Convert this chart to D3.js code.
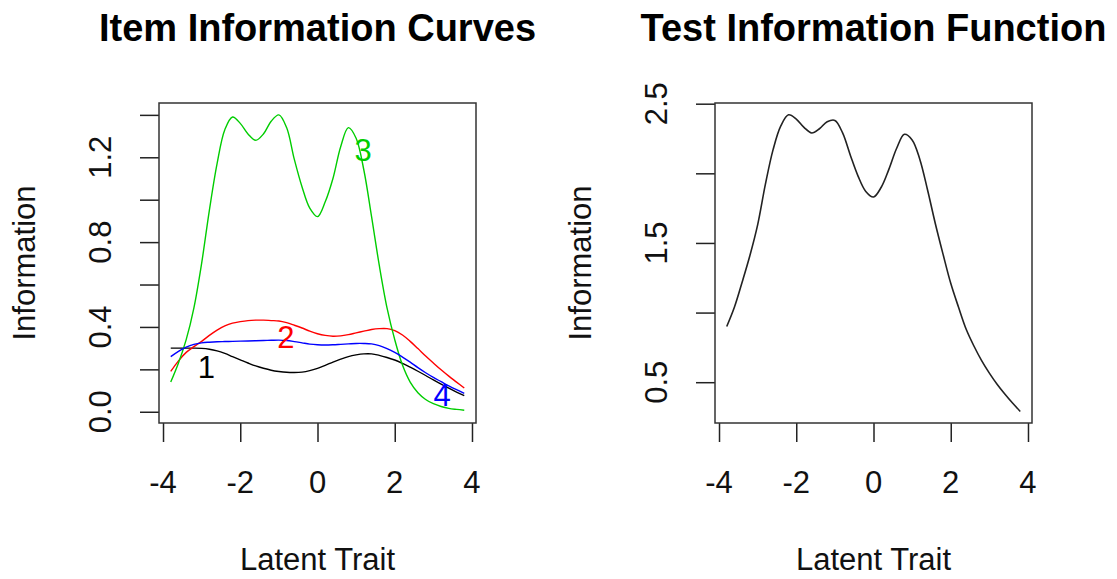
<!DOCTYPE html>
<html>
<head>
<meta charset="utf-8">
<script src="https://cdn.jsdelivr.net/npm/d3@7"></script>
<style>
body { margin: 0; background: #fff; }
text { font-family: "Liberation Sans", Arial, Helvetica, sans-serif; }
</style>
</head>
<body>
<div id="svg_area"></div>
<script>
// latent trait grid
var theta = [-3.8,-3.6,-3.4,-3.2,-3.0,-2.8,-2.6,-2.4,-2.2,-2.0,-1.8,-1.6,-1.4,-1.2,-1.0,-0.8,-0.6,-0.4,-0.2,0.0,
             0.2,0.4,0.6,0.8,1.0,1.2,1.4,1.6,1.8,2.0,2.2,2.4,2.6,2.8,3.0,3.2,3.4,3.6,3.8];

// item information
var item1 = [0.300,0.300,0.300,0.300,0.299,0.295,0.287,0.275,0.260,0.245,0.230,0.216,0.205,0.196,0.190,0.186,0.185,0.187,0.194,0.205,
             0.219,0.234,0.248,0.260,0.268,0.273,0.273,0.266,0.256,0.244,0.228,0.210,0.191,0.171,0.150,0.130,0.111,0.093,0.076];
var item2 = [0.190,0.240,0.280,0.307,0.332,0.360,0.385,0.405,0.418,0.425,0.430,0.432,0.432,0.430,0.428,0.420,0.408,0.395,0.380,0.368,
             0.360,0.356,0.358,0.364,0.372,0.380,0.388,0.392,0.392,0.383,0.362,0.332,0.298,0.263,0.230,0.198,0.168,0.140,0.112];
var item3 = [0.140,0.230,0.340,0.490,0.700,0.950,1.170,1.330,1.390,1.360,1.310,1.280,1.310,1.370,1.400,1.340,1.190,1.060,0.960,0.920,
             0.990,1.100,1.250,1.340,1.290,1.140,0.920,0.690,0.490,0.340,0.220,0.140,0.090,0.058,0.038,0.025,0.016,0.011,0.007];
var item4 = [0.260,0.285,0.305,0.318,0.325,0.328,0.330,0.331,0.332,0.333,0.334,0.335,0.336,0.337,0.338,0.336,0.331,0.325,0.319,0.316,
             0.315,0.316,0.318,0.320,0.322,0.322,0.320,0.312,0.298,0.280,0.258,0.234,0.208,0.184,0.162,0.142,0.122,0.104,0.087];

// test information
var testInfo = [0.90,1.04,1.22,1.41,1.63,1.92,2.17,2.34,2.42,2.39,2.33,2.29,2.32,2.37,2.38,2.29,2.13,1.98,1.87,1.83,
                1.90,2.03,2.18,2.28,2.24,2.10,1.88,1.64,1.42,1.21,1.04,0.88,0.76,0.655,0.565,0.485,0.415,0.35,0.29];

var itemNames = ["1","2","3","4"];
var itemColors = ["#000000","#ff0000","#00cd00","#0000ff"];
var itemSeries = [item1,item2,item3,item4];
// where the item numbers sit (theta, information)
var labelTheta = [-2.88,-0.82,1.18,3.23];
var labelInfo = [0.208,0.350,1.234,0.079];

var xTicks = [-4,-2,0,2,4];
var leftYTicks = [0,0.2,0.4,0.6,0.8,1.0,1.2,1.4];
var leftYLabels = ["0.0","","0.4","","0.8","","1.2",""];
var rightYTicks = [0.5,1.0,1.5,2.0,2.5];
var rightYLabels = ["0.5","","1.5","","2.5"];

var W = 1117, H = 579;
var boxTop = 103, boxBottom = 423, boxW = 317;
var leftX0 = 159, rightX0 = 715;

var svg = d3.select("#svg_area")
    .append("svg")
    .attr("width",W)
    .attr("height",H);

function panel(x0, title, yDomain, yTicks, yLabels) {
    var g = svg.append("g");
    var sx = d3.scaleLinear().domain([-4.104,4.104]).range([x0,x0+boxW]);
    var sy = d3.scaleLinear().domain(yDomain).range([boxBottom,boxTop]);

    g.append("g")
        .attr("transform","translate(0,"+boxBottom+")")
        .call(d3.axisBottom(sx).tickValues(xTicks).tickSize(19).tickSizeOuter(0).tickFormat(""))
        .call(a => a.select(".domain").remove())
        .selectAll("line").attr("stroke","#222").attr("stroke-width",1.5);

    g.append("g")
        .attr("transform","translate("+x0+",0)")
        .call(d3.axisLeft(sy).tickValues(yTicks).tickSize(19).tickSizeOuter(0).tickFormat(""))
        .call(a => a.select(".domain").remove())
        .selectAll("line").attr("stroke","#222").attr("stroke-width",1.5);

    g.selectAll(".xl")
        .data(xTicks)
        .enter().append("text")
        .attr("x",d => sx(d))
        .attr("y",493)
        .attr("text-anchor","middle")
        .style("font-size","31px")
        .style("fill","#111")
        .text(d => d);

    g.selectAll(".yl")
        .data(yTicks)
        .enter().append("text")
        .attr("transform",d => "translate("+(x0-48)+","+sy(d)+") rotate(-90)")
        .attr("text-anchor","middle")
        .style("font-size","31px")
        .style("fill","#111")
        .text((d,i) => yLabels[i]);

    g.append("rect")
        .attr("x",x0).attr("y",boxTop)
        .attr("width",boxW).attr("height",boxBottom-boxTop)
        .attr("fill","none")
        .attr("stroke","#333")
        .attr("stroke-width",1.5);

    g.append("text")
        .attr("x",x0+boxW/2)
        .attr("y",41)
        .attr("text-anchor","middle")
        .style("font-size","38px")
        .style("font-weight","bold")
        .text(title);

    g.append("text")
        .attr("x",x0+boxW/2)
        .attr("y",570)
        .attr("text-anchor","middle")
        .style("font-size","31px")
        .style("fill","#111")
        .text("Latent Trait");

    g.append("text")
        .attr("transform","translate("+(x0-124)+","+((boxTop+boxBottom)/2)+") rotate(-90)")
        .attr("text-anchor","middle")
        .style("font-size","31px")
        .style("fill","#111")
        .text("Information");

    return {g:g, sx:sx, sy:sy};
}

var left = panel(leftX0, "Item Information Curves", [-0.053,1.456], leftYTicks, leftYLabels);
var right = panel(rightX0, "Test Information Function", [0.207,2.505], rightYTicks, rightYLabels);

function lineFor(p, vals) {
    return d3.line()
        .x((d,i) => p.sx(theta[i]))
        .y(d => p.sy(d))
        .curve(d3.curveCatmullRom.alpha(0.5))(vals);
}

for (let i = 0; i < itemSeries.length; i++) {
    left.g.append("path")
        .attr("d",lineFor(left,itemSeries[i]))
        .attr("fill","none")
        .attr("stroke",itemColors[i])
        .attr("stroke-width",1.4);
}

for (let i = 0; i < itemNames.length; i++) {
    left.g.append("text")
        .attr("x",left.sx(labelTheta[i]))
        .attr("y",left.sy(labelInfo[i]))
        .attr("text-anchor","middle")
        .attr("dominant-baseline","central")
        .style("font-size","31px")
        .style("fill",itemColors[i])
        .text(itemNames[i]);
}

right.g.append("path")
    .attr("d",lineFor(right,testInfo))
    .attr("fill","none")
    .attr("stroke","#222")
    .attr("stroke-width",1.6);
</script>
</body>
</html>
